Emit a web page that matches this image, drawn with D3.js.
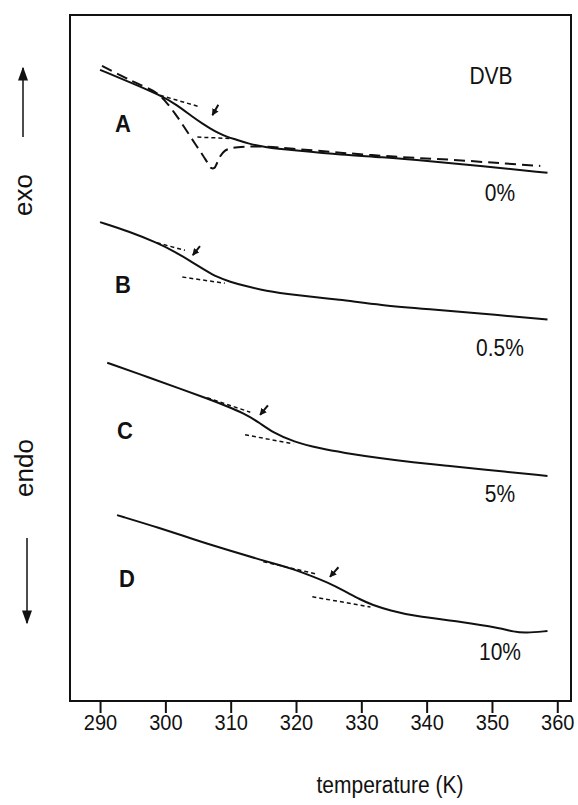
<!DOCTYPE html>
<html>
<head>
<meta charset="utf-8">
<script src="https://cdn.jsdelivr.net/npm/d3@7"></script>
<style>
    body { margin: 0; background: #fff; }
    text { font-family: "Liberation Sans", Arial, sans-serif; fill: #111; }
</style>
</head>
<body>
<div id="chart"></div>
<script>
// temperature ticks on the x axis
const tempTicks = [290, 300, 310, 320, 330, 340, 350, 360];

// DSC traces, [temperature (K), heat flow offset (a.u.)]
const traceA = [[290.0, 92.0], [294.6, 90.2], [299.2, 88.3], [301.8, 86.9], [304.2, 85.1], [305.8, 84.1],
    [306.8, 83.5], [308.1, 82.8], [309.5, 82.2], [311.0, 81.8], [312.5, 81.3], [315.3, 80.7],
    [319.6, 80.3], [327.2, 79.6], [332.9, 79.3], [340.5, 78.7], [348.2, 78.0], [358.5, 77.0]];
const traceA2 = [[290.3, 92.6], [294.6, 90.5], [298.7, 88.6], [300.1, 87.3], [301.5, 85.6], [303.0, 83.5],
    [304.5, 81.3], [305.7, 79.6], [306.5, 78.4], [307.0, 77.7], [307.5, 77.7], [307.9, 78.4],
    [308.4, 79.4], [309.1, 80.2], [310.2, 80.6], [312.2, 80.8], [315.3, 80.8], [319.6, 80.5],
    [327.2, 79.9], [335.9, 79.3], [343.6, 78.9], [351.3, 78.4], [357.4, 78.0]];
const traceB = [[290.0, 69.8], [294.6, 68.4], [298.7, 66.8], [301.5, 65.5], [304.2, 63.9], [306.1, 62.8],
    [307.9, 61.8], [309.9, 61.1], [312.2, 60.5], [315.3, 59.8], [319.6, 59.2], [326.8, 58.5],
    [332.9, 57.7], [340.5, 57.1], [348.2, 56.5], [358.5, 55.6]];
const traceC = [[291.1, 49.3], [297.7, 47.1], [302.3, 45.5], [306.4, 44.1], [309.1, 43.1], [311.9, 42.0],
    [314.2, 40.7], [316.5, 39.1], [319.6, 37.8], [323.7, 36.8], [327.2, 36.2], [332.9, 35.4],
    [337.9, 34.8], [343.1, 34.3], [348.2, 33.8], [358.5, 32.8]];
const traceD = [[292.6, 27.1], [299.2, 25.2], [304.2, 23.6], [309.9, 21.9], [314.5, 20.6], [317.6, 19.8],
    [319.6, 19.2], [322.2, 18.3], [324.8, 17.3], [327.5, 16.0], [329.8, 14.8], [331.7, 14.0],
    [334.4, 13.2], [337.9, 12.4], [345.6, 11.5], [351.3, 10.6], [353.3, 10.1], [355.1, 9.9], [358.5, 10.2]];

// tangent construction lines (start, end)
const tangents = [
    [[299.2, 88.3], [305.3, 86.6]], [[304.9, 82.2], [309.9, 82.0]],
    [[298.7, 66.8], [303.0, 65.7]], [[302.6, 61.8], [309.1, 60.9]],
    [[306.4, 44.2], [313.0, 42.1]], [[312.2, 38.8], [319.6, 37.5]],
    [[315.0, 20.3], [323.2, 18.5]], [[322.5, 15.2], [331.4, 13.7]]
];

// Tg arrows (tail, tip)
const tgArrows = [
    [[308.1, 86.9], [307.2, 85.4]],
    [[305.3, 66.3], [304.2, 65.0]],
    [[315.7, 43.1], [314.5, 41.7]],
    [[326.5, 19.5], [325.2, 18.1]]
];

const traceLetters = ["A", "B", "C", "D"];
const dvbLabels = ["0%", "0.5%", "5%", "10%"];

class DscVis {

    constructor(_parentElement) {
        this.parentElement = _parentElement;
        this.initVis();
    }

    initVis() {
        let vis = this;

        vis.width = 578;
        vis.height = 805;
        vis.frame = {left: 70, right: 571, top: 15, bottom: 701};
        vis.stretch = 1.12; // scanned lettering is a bit taller than wide

        vis.svg = d3.select("#" + vis.parentElement).append("svg")
            .attr("width", vis.width)
            .attr("height", vis.height);

        vis.xScale = d3.scaleLinear()
            .domain([285.4, 362.1])
            .range([vis.frame.left, vis.frame.right]);

        // arbitrary heat flow units, traces are offset
        vis.yScale = d3.scaleLinear()
            .domain([0, 100])
            .range([vis.frame.bottom, vis.frame.top]);

        vis.line = d3.line()
            .x(d => vis.xScale(d[0]))
            .y(d => vis.yScale(d[1]))
            .curve(d3.curveBasis);

        let defs = vis.svg.append("defs");
        defs.append("marker")
            .attr("id", "head-small")
            .attr("viewBox", "0 0 10 10")
            .attr("refX", 9).attr("refY", 5)
            .attr("markerWidth", 7).attr("markerHeight", 7)
            .attr("markerUnits", "userSpaceOnUse")
            .attr("orient", "auto")
            .append("path").attr("d", "M0,0 L10,5 L0,10 z").attr("fill", "#111");
        defs.append("marker")
            .attr("id", "head-big")
            .attr("viewBox", "0 0 10 10")
            .attr("refX", 9).attr("refY", 5)
            .attr("markerWidth", 14).attr("markerHeight", 10)
            .attr("markerUnits", "userSpaceOnUse")
            .attr("orient", "auto")
            .attr("preserveAspectRatio", "none")
            .append("path").attr("d", "M0,0 L10,5 L0,10 z").attr("fill", "#111");

        vis.updateVis();
    }

    // text placed at (x, y) and stretched vertically
    addText(x, y, str, size) {
        let vis = this;
        return vis.svg.append("text")
            .attr("transform", "translate(" + x + "," + y + ") scale(1," + vis.stretch + ")")
            .attr("text-anchor", "middle")
            .attr("dy", "0.36em")
            .attr("font-size", size)
            .text(str);
    }

    updateVis() {
        let vis = this;

        // frame
        vis.svg.append("rect")
            .attr("x", vis.frame.left)
            .attr("y", vis.frame.top)
            .attr("width", vis.frame.right - vis.frame.left)
            .attr("height", vis.frame.bottom - vis.frame.top)
            .attr("fill", "none")
            .attr("stroke", "#111")
            .attr("stroke-width", 2);

        // x axis, ticks hang below the frame
        let xAxis = d3.axisBottom(vis.xScale)
            .tickValues(tempTicks)
            .tickSize(12)
            .tickPadding(0);

        let axisG = vis.svg.append("g")
            .attr("transform", "translate(0," + vis.frame.bottom + ")")
            .call(xAxis);
        axisG.select(".domain").remove();
        axisG.selectAll(".tick line").attr("stroke", "#111").attr("stroke-width", 2);
        axisG.selectAll(".tick text")
            .attr("font-size", 20)
            .attr("font-family", "Liberation Sans, Arial, sans-serif")
            .attr("fill", "#111")
            .attr("transform", "scale(1," + vis.stretch + ")")
            .attr("y", 12);

        vis.addText(390, 785, "temperature (K)", 21);

        // exo / endo
        vis.svg.append("line")
            .attr("x1", 23).attr("y1", 137).attr("x2", 23).attr("y2", 68)
            .attr("stroke", "#111").attr("stroke-width", 1.5)
            .attr("marker-end", "url(#head-big)");
        vis.svg.append("text")
            .attr("transform", "translate(32,195) rotate(-90)")
            .attr("text-anchor", "middle")
            .attr("font-size", 26)
            .text("exo");

        vis.svg.append("line")
            .attr("x1", 27).attr("y1", 538).attr("x2", 27).attr("y2", 623)
            .attr("stroke", "#111").attr("stroke-width", 1.5)
            .attr("marker-end", "url(#head-big)");
        vis.svg.append("text")
            .attr("transform", "translate(33,468) rotate(-90)")
            .attr("text-anchor", "middle")
            .attr("font-size", 26)
            .text("endo");

        // traces
        [traceA, traceB, traceC, traceD].forEach(tr => {
            vis.svg.append("path")
                .datum(tr)
                .attr("d", vis.line)
                .attr("fill", "none")
                .attr("stroke", "#111")
                .attr("stroke-width", 2);
        });

        vis.svg.append("path")
            .datum(traceA2)
            .attr("d", vis.line.curve(d3.curveCatmullRom))
            .attr("fill", "none")
            .attr("stroke", "#111")
            .attr("stroke-width", 2)
            .attr("stroke-dasharray", "11,6");

        // tangents
        vis.svg.selectAll(".tangent")
            .data(tangents)
            .enter().append("line")
            .attr("class", "tangent")
            .attr("x1", d => vis.xScale(d[0][0]))
            .attr("y1", d => vis.yScale(d[0][1]))
            .attr("x2", d => vis.xScale(d[1][0]))
            .attr("y2", d => vis.yScale(d[1][1]))
            .attr("stroke", "#111")
            .attr("stroke-width", 1.5)
            .attr("stroke-dasharray", "4,3");

        // Tg arrows
        vis.svg.selectAll(".tg-arrow")
            .data(tgArrows)
            .enter().append("line")
            .attr("class", "tg-arrow")
            .attr("x1", d => vis.xScale(d[0][0]))
            .attr("y1", d => vis.yScale(d[0][1]))
            .attr("x2", d => vis.xScale(d[1][0]))
            .attr("y2", d => vis.yScale(d[1][1]))
            .attr("stroke", "#111")
            .attr("stroke-width", 2)
            .attr("marker-end", "url(#head-small)");

        // letters and DVB content
        let letterY = [123, 284, 430, 578];
        let letterX = [123, 123, 125, 127];
        traceLetters.forEach((d, i) => {
            vis.addText(letterX[i], letterY[i], d, 22).attr("font-weight", "bold");
        });

        let pctY = [193, 348, 494, 652];
        dvbLabels.forEach((d, i) => {
            vis.addText(500, pctY[i], d, 21);
        });

        vis.addText(491, 76, "DVB", 21);
    }
}

let dscVis = new DscVis("chart");
</script>
</body>
</html>
